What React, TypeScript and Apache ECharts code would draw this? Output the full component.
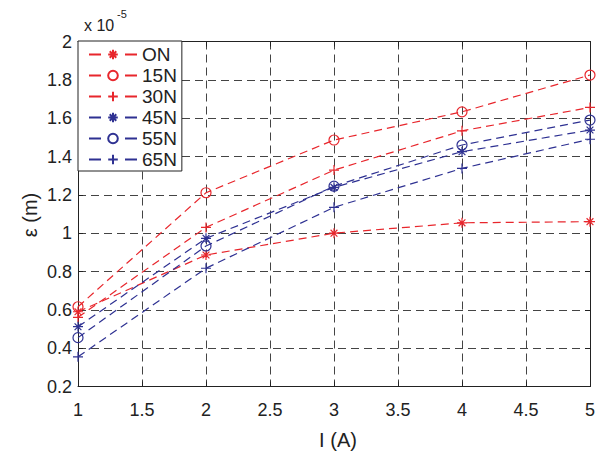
import React, { useEffect, useRef } from "react";
import * as echarts from "echarts";

const currents = [1, 2, 3, 4, 5];
const seriesNames = ["ON", "15N", "30N", "45N", "55N", "65N"];
const valsON = [0.59, 0.886, 1.0, 1.054, 1.06];
const vals15N = [0.616, 1.211, 1.486, 1.633, 1.825];
const vals30N = [0.561, 1.03, 1.329, 1.534, 1.656];
const vals45N = [0.512, 0.973, 1.239, 1.425, 1.538];
const vals55N = [0.455, 0.933, 1.245, 1.46, 1.59];
const vals65N = [0.355, 0.817, 1.135, 1.338, 1.49];

const RED = "#e8262c";
const BLUE = "#2e3192";
const FONT = "Liberation Sans, Arial, Helvetica, sans-serif";

const STAR = "path://M5,0 L5,10 M0,5 L10,5 M1.6,1.6 L8.4,8.4 M8.4,1.6 L1.6,8.4";
const CIRCLE = "path://M10,5 A5,5 0 1,1 0,5 A5,5 0 1,1 10,5 Z";
const PLUS = "path://M5,0 L5,10 M0,5 L10,5";

export default function App() {
  const ref = useRef<HTMLDivElement>(null);
  useEffect(() => {
    if (!ref.current) return;
    const chart = echarts.init(ref.current, null, { renderer: "svg" });
    const all = [valsON, vals15N, vals30N, vals45N, vals55N, vals65N];
    const colors = [RED, RED, RED, BLUE, BLUE, BLUE];
    const symbols = [STAR, CIRCLE, PLUS, STAR, CIRCLE, PLUS];
    const series = all.map((vals, i) => ({
      name: seriesNames[i],
      type: "line",
      xAxisIndex: 0,
      yAxisIndex: 0,
      data: currents.map((x, j) => [x, vals[j]]),
      symbol: symbols[i],
      symbolSize: 10,
      showSymbol: true,
      lineStyle: { color: colors[i], width: 1.2, type: [8, 5] },
      itemStyle: { color: "transparent", borderColor: colors[i], borderWidth: 1.2 },
      emphasis: { disabled: true },
      z: 3,
    }));
    const gridLine = { show: true, lineStyle: { color: "#444", width: 1, type: [8, 5] } };
    const axisLine = { show: true, lineStyle: { color: "#222", width: 1 } };
    const tick = { show: true, inside: true, length: 5, lineStyle: { color: "#222" } };
    chart.setOption({
      animation: false,
      grid: { left: 78, right: 2, top: 41.5, bottom: 71.5, containLabel: false },
      xAxis: [
        {
          type: "value", min: 1, max: 5, interval: 0.5, position: "bottom",
          axisLine, axisTick: tick,
          axisLabel: { color: "#222", fontSize: 18, fontFamily: FONT, margin: 14 },
          splitLine: gridLine,
        },
        {
          type: "value", min: 1, max: 5, interval: 0.5, position: "top",
          axisLine, axisTick: tick,
          axisLabel: { show: false }, splitLine: { show: false },
        },
      ],
      yAxis: [
        {
          type: "value", min: 0.2, max: 2, interval: 0.2, position: "left",
          axisLine, axisTick: tick,
          axisLabel: { color: "#222", fontSize: 18, fontFamily: FONT, margin: 6 },
          splitLine: gridLine,
        },
        {
          type: "value", min: 0.2, max: 2, interval: 0.2, position: "right",
          axisLine, axisTick: tick,
          axisLabel: { show: false }, splitLine: { show: false },
        },
      ],
      legend: {
        show: true,
        orient: "vertical",
        left: 78,
        top: 41,
        data: seriesNames,
        selectedMode: false,
        backgroundColor: "#fff",
        borderColor: "#222",
        borderWidth: 1,
        borderRadius: 0,
        padding: [4, 5, 2, 10],
        itemGap: 2,
        itemWidth: 48,
        itemHeight: 12,
        lineStyle: { type: [12, 24] },
        textStyle: { color: "#222", fontSize: 19, fontFamily: FONT },
        z: 10,
      },
      graphic: [
        { type: "text", left: 84, top: 17, style: { text: "x 10", fontSize: 16, fontFamily: FONT, fill: "#222" } },
        { type: "text", left: 117, top: 8, style: { text: "-5", fontSize: 11, fontFamily: FONT, fill: "#222" } },
        {
          type: "text", x: 30, y: 215, rotation: Math.PI / 2,
          style: { text: "ε (m)", fontSize: 20, fontFamily: FONT, fill: "#222", align: "center", verticalAlign: "middle" },
        },
        {
          type: "text", x: 338, y: 440,
          style: { text: "I (A)", fontSize: 20, fontFamily: FONT, fill: "#222", align: "center", verticalAlign: "middle" },
        },
      ],
      series,
    });
    return () => chart.dispose();
  }, []);
  return (
    <div
      ref={ref}
      style={{ position: "fixed", left: 0, top: 0, width: 598, height: 458, background: "#fff" }}
    />
  );
}
